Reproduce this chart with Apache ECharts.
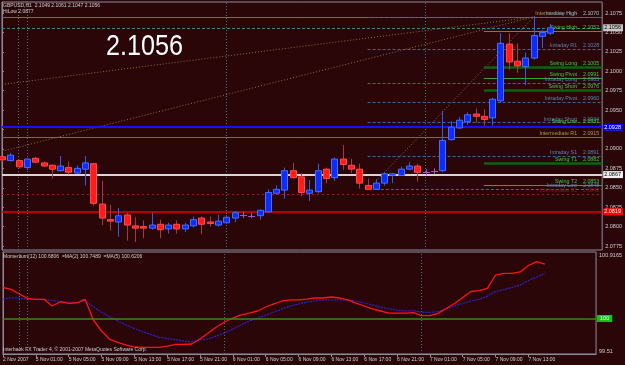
<!DOCTYPE html>
<html><head><meta charset="utf-8">
<script src="https://cdn.jsdelivr.net/npm/echarts@6/dist/echarts.min.js"></script>
<style>html,body{margin:0;padding:0;background:#2b0609;}#c{width:625px;height:365px;}</style>
</head><body><div id="c"></div>
<script>
const symbolName = 'GBPUSD,H1';
const hiLowText = 'HiLow 2.0877';
const tickBars = [0,4,8,12,16,20,24,28,32,36,40,44,48,52,56,60,64];
const tickLabels = ['2 Nov 2007','5 Nov 01:00','5 Nov 05:00','5 Nov 09:00','5 Nov 13:00','5 Nov 17:00','5 Nov 21:00','6 Nov 01:00','6 Nov 05:00','6 Nov 09:00','6 Nov 13:00','6 Nov 17:00','6 Nov 21:00','7 Nov 01:00','7 Nov 05:00','7 Nov 09:00','7 Nov 13:00'];
const priceTicks = [2.0775,2.0800,2.0825,2.0850,2.0875,2.0900,2.0925,2.0950,2.0975,2.1000,2.1025,2.1050,2.1075];
const indTicks = [99.51, 100.9165];
const indTickLabels = ['99.51', '100.9165'];

const openP = [2.0890,2.0885,2.0885,2.0876,2.0888,2.0882,2.0879,2.0872,2.0876,2.0869,2.0874,2.0881,2.0829,2.0809,2.0806,2.0815,2.0801,2.0800,2.0798,2.0803,2.0797,2.0803,2.0797,2.0801,2.0811,2.0806,2.0802,2.0805,2.0811,2.0815,2.0814,2.0814,2.0819,2.0843,2.0847,2.0872,2.0864,2.0843,2.0845,2.0874,2.0863,2.0887,2.0879,2.0874,2.0853,2.0848,2.0856,2.0866,2.0866,2.0874,2.0878,2.0870,2.0871,2.0872,2.0912,2.0927,2.0935,2.0945,2.0942,2.0940,2.0962,2.1035,2.1013,2.1006,2.1017,2.1045,2.1049];
const highP = [2.0891,2.0895,2.0886,2.0888,2.0890,2.0884,2.0880,2.0891,2.0884,2.0879,2.0891,2.0882,2.0859,2.0828,2.0824,2.0818,2.0812,2.0808,2.0818,2.0809,2.0805,2.0808,2.0805,2.0813,2.0813,2.0813,2.0815,2.0815,2.0820,2.0819,2.0818,2.0822,2.0848,2.0853,2.0876,2.0882,2.0869,2.0860,2.0881,2.0876,2.0889,2.0905,2.0887,2.0881,2.0862,2.0861,2.0870,2.0869,2.0877,2.0883,2.0881,2.0874,2.0875,2.0949,2.0936,2.0941,2.0947,2.0952,2.0951,2.0966,2.1049,2.1049,2.1036,2.1024,2.1071,2.1053,2.1061];
const lowP = [2.0884,2.0884,2.0875,2.0873,2.0882,2.0877,2.0862,2.0871,2.0867,2.0868,2.0853,2.0827,2.0802,2.0795,2.0787,2.0782,2.0780,2.0785,2.0796,2.0785,2.0791,2.0791,2.0793,2.0799,2.0790,2.0800,2.0800,2.0804,2.0806,2.0811,2.0811,2.0809,2.0818,2.0841,2.0836,2.0862,2.0839,2.0833,2.0843,2.0856,2.0859,2.0873,2.0869,2.0849,2.0847,2.0847,2.0853,2.0856,2.0865,2.0873,2.0858,2.0866,2.0868,2.0870,2.0911,2.0926,2.0931,2.0934,2.0930,2.0930,2.0959,2.1002,2.0998,2.0982,2.1015,2.1030,2.1047];
const closeP = [2.0886,2.0892,2.0877,2.0887,2.0883,2.0878,2.0874,2.0878,2.0870,2.0875,2.0882,2.0830,2.0811,2.0808,2.0814,2.0802,2.0798,2.0799,2.0802,2.0796,2.0802,2.0797,2.0802,2.0809,2.0803,2.0804,2.0807,2.0812,2.0818,2.0815,2.0814,2.0821,2.0844,2.0848,2.0872,2.0863,2.0844,2.0847,2.0872,2.0862,2.0887,2.0880,2.0874,2.0856,2.0848,2.0856,2.0868,2.0868,2.0874,2.0878,2.0870,2.0870,2.0871,2.0911,2.0928,2.0937,2.0944,2.0942,2.0938,2.0964,2.1036,2.1012,2.1007,2.1017,2.1046,2.1050,2.1056];

const momMA2 = [100.427,100.402,100.337,100.278,100.264,100.264,100.172,100.231,100.209,100.217,100.264,99.979,99.827,99.713,99.669,99.634,99.607,99.602,99.602,99.602,99.620,99.644,99.644,99.648,99.717,99.800,99.882,99.951,100.006,100.048,100.075,100.103,100.158,100.200,100.241,100.255,100.255,100.268,100.282,100.282,100.296,100.282,100.255,100.213,100.172,100.131,100.103,100.075,100.075,100.075,100.080,100.038,100.038,100.071,100.137,100.206,100.289,100.372,100.383,100.416,100.599,100.623,100.623,100.641,100.730,100.783,100.749];
const momMA5 = [100.268,100.286,100.278,100.264,100.264,100.264,100.248,100.231,100.223,100.217,100.245,100.162,100.089,100.024,99.965,99.910,99.862,99.818,99.779,99.740,99.724,99.707,99.689,99.680,99.703,99.717,99.758,99.800,99.855,99.910,99.965,100.006,100.048,100.089,100.131,100.172,100.200,100.227,100.241,100.255,100.255,100.255,100.255,100.241,100.213,100.186,100.158,100.131,100.117,100.103,100.107,100.085,100.085,100.093,100.137,100.172,100.206,100.241,100.262,100.310,100.369,100.399,100.427,100.462,100.524,100.572,100.621];
const indHeader = 'Momentum(12) 100.6806  =MA(2) 100.7489  =MA(5) 100.6206';
const indLevel = 100;

const levelNames = ['Intermediate High','Intraday High','Swing High','Intraday R1','Swing Long','Swing Pivot','Intraday Long','Swing Short','Intraday Pivot','Intraday Short','Swing Low','Intermediate R1','Intraday S1','Swing T1','Swing T2','Intraday Low','Intermediate S1'];
const levelPrices = [2.1070,2.1070,2.1052,2.1028,2.1005,2.0991,2.0985,2.0976,2.0960,2.0934,2.0931,2.0915,2.0891,2.0882,2.0853,2.0848,2.0842];
const levelStartBar = [0,44,58,44,58,58,44,58,44,44,58,0,44,58,58,45,0];

const hLinePrices = [2.0928, 2.0867, 2.0819];
const separatorBars = [2, 3, 27, 51];
const trendStartBar = [0, 0, 44];
const trendStartPrice = [2.0983, 2.0897, 2.0847];
const trendEndBar = 64;
const trendEndPrice = 2.1070;
const copyrightText = 'Interbank FX Trader 4, \u00a9 2001-2007 MetaQuotes Software Corp.';

// ---- layout / style ----
const BG = '#2b0609', FRAME = '#8a8e9c', TXT = '#cfcfcf';
const FONT = '"Liberation Sans", Arial, sans-serif';
const X_MAX = 72.24;
const Y_MIN = 2.07699, Y_MAX = 2.10892;
const last = closeP.length - 1;

function levelStyle(name) {
  if (name.indexOf('Intraday') === 0) return {line: {color: '#3c6890', width: 1, type: [3, 2]}, label: '#5a84b4'};
  if (name.indexOf('Intermediate S') === 0) return {line: {color: '#a31818', width: 1, type: [2, 3]}, label: '#7a2020'};
  if (name.indexOf('Intermediate') === 0) return {line: {color: '#7a7030', width: 1, type: 'solid'}, label: '#aa9e4a'};
  if (name === 'Swing Low') return {line: {color: 'rgba(0,0,0,0)', width: 1}, label: '#3ccc3c'};
  if (name === 'Swing Long' || name === 'Swing Short' || name === 'Swing T1') return {line: {color: '#0b650b', width: 2.5, type: 'solid'}, label: '#3ccc3c'};
  return {line: {color: '#33a533', width: 1, type: 'solid'}, label: '#3ccc3c'};
}

const levelMarks = levelNames.map((name, k) => {
  const st = levelStyle(name);
  const p = levelPrices[k];
  const label = {show: true, position: 'insideEndTop', distance: [3, 1], color: st.label, fontSize: 5.3, fontFamily: FONT,
    formatter: name + '    ' + p.toFixed(4)};
  if (levelStartBar[k] === 0) return {yAxis: p, lineStyle: st.line, label};
  return [{coord: [levelStartBar[k], p], lineStyle: st.line, label}, {coord: [X_MAX, p]}];
});

const boxStyles = [
  {line: {color: '#1212ff', width: 2, type: 'solid'}, bg: '#0000ff', fg: '#ffffff'},
  {line: {color: '#d6d6d6', width: 2, type: 'solid'}, bg: '#f0f0f0', fg: '#000000'},
  {line: {color: '#e60000', width: 1.5, type: 'solid'}, bg: '#ff0000', fg: '#ffffff'}
];
function boxLabel(bg, fg, txt) {
  return {show: true, position: 'end', distance: 1, backgroundColor: bg, color: fg, fontSize: 5.5, fontFamily: FONT,
    padding: [1, 2, 0, 1], formatter: txt};
}
const boxMarks = hLinePrices.map((p, k) => ({yAxis: p, lineStyle: boxStyles[k].line, label: boxLabel(boxStyles[k].bg, boxStyles[k].fg, p.toFixed(4))}));
boxMarks.unshift({yAxis: closeP[last], lineStyle: {color: '#2f8c8c', width: 1, type: [3, 2]}, label: boxLabel('#c8c8c8', '#000000', closeP[last].toFixed(4))});

const sepMarks = separatorBars.map(b => ({xAxis: b}));
const sepStyle = {color: '#3e7282', width: 1, type: [1, 2]};

function renderCandle(params, api) {
  const i = api.value(0), o = api.value(1), c = api.value(2), l = api.value(3), h = api.value(4);
  const po = api.coord([i, o]);
  const x = Math.round(po[0]) + 0.5;
  const yo = po[1], yc = api.coord([i, c])[1], yl = api.coord([i, l])[1], yh = api.coord([i, h])[1];
  const bw = Math.max(3, Math.round(api.size([1, 0])[0] * 0.68));
  const up = c > o, doji = c === o;
  const wick = doji ? '#b048d8' : (up ? '#2c5ef0' : '#a43c3c');
  const children = [{type: 'line', shape: {x1: x, y1: yh, x2: x, y2: yl}, style: {stroke: wick, lineWidth: 1}}];
  if (doji) {
    children.push({type: 'line', shape: {x1: x - bw / 2 - 0.5, y1: Math.round(yo) + 0.5, x2: x + bw / 2 + 0.5, y2: Math.round(yo) + 0.5}, style: {stroke: '#b048d8', lineWidth: 1}});
  } else {
    const top = Math.min(yo, yc), hgt = Math.max(1.5, Math.abs(yo - yc));
    children.push({type: 'rect', shape: {x: x - bw / 2, y: top, width: bw, height: hgt},
      style: {fill: up ? '#0f2cff' : '#ff1c1c', stroke: up ? '#4a6cff' : '#ff4a4a', lineWidth: 1}});
  }
  return {type: 'group', children};
}

const series = [];
series.push({
  type: 'custom', name: 'candles', xAxisIndex: 0, yAxisIndex: 0, z: 6,
  renderItem: renderCandle,
  encode: {x: 0, y: [1, 2, 3, 4]},
  data: openP.map((o, i) => [i, o, closeP[i], lowP[i], highP[i]])
});
trendStartBar.forEach((b, k) => {
  series.push({
    type: 'line', xAxisIndex: 0, yAxisIndex: 0, z: 3, symbol: 'none', silent: true,
    lineStyle: {color: '#857538', width: 1, type: [1, 2]},
    data: [[b, trendStartPrice[k]], [trendEndBar, trendEndPrice]],
    markLine: k === 0 ? {silent: true, symbol: ['none', 'none'], animation: false, precision: 4,
      data: sepMarks.concat(levelMarks), lineStyle: sepStyle, label: {show: false}} : undefined
  });
});
series.push({
  type: 'line', xAxisIndex: 0, yAxisIndex: 0, z: 4, symbol: 'none', silent: true,
  lineStyle: {width: 0}, data: [],
  markLine: {silent: true, symbol: ['none', 'none'], animation: false, precision: 4, data: boxMarks}
});
series.push({
  type: 'line', xAxisIndex: 1, yAxisIndex: 1, z: 3, symbol: 'none', silent: true,
  lineStyle: {color: '#2626d4', width: 1.2, type: [2, 1]},
  data: momMA5.map((v, i) => [i, v]),
  markLine: {silent: true, symbol: ['none', 'none'], animation: false,
    data: sepMarks.map(m => Object.assign({lineStyle: sepStyle, label: {show: false}}, m)).concat([
      {yAxis: indLevel, lineStyle: {color: '#3a8a12', width: 1.5, type: 'solid'},
       label: {show: true, position: 'end', distance: 1, backgroundColor: '#16c416', color: '#eaffea', fontSize: 5.5, fontFamily: FONT, padding: [1, 3, 0, 3], formatter: String(indLevel)}}
    ])}
});
series.push({
  type: 'line', xAxisIndex: 1, yAxisIndex: 1, z: 4, symbol: 'none', silent: true,
  lineStyle: {color: '#ff1414', width: 1.3},
  data: momMA2.map((v, i) => [i, v])
});

const option = {
  backgroundColor: BG,
  animation: false,
  grid: [
    {left: 2, top: 2, width: 602, height: 248, show: true, borderColor: FRAME, borderWidth: 1, backgroundColor: 'transparent'},
    {left: 2, top: 252, width: 602, height: 102, show: true, borderColor: FRAME, borderWidth: 1, backgroundColor: 'transparent'}
  ],
  xAxis: [
    {type: 'value', gridIndex: 0, min: 0, max: X_MAX, show: false, splitLine: {show: false}},
    {type: 'value', gridIndex: 1, min: 0, max: X_MAX, splitLine: {show: false},
     axisLine: {show: true, lineStyle: {color: FRAME}},
     axisTick: {show: true, customValues: tickBars, length: 3, lineStyle: {color: FRAME}},
     axisLabel: {customValues: tickBars, formatter: v => tickLabels[tickBars.indexOf(v)] || '', align: 'left', margin: 3,
       fontSize: 5, color: TXT, fontFamily: FONT}}
  ],
  yAxis: [
    {type: 'value', gridIndex: 0, position: 'right', min: Y_MIN, max: Y_MAX, splitLine: {show: false},
     axisLine: {show: true, lineStyle: {color: FRAME}},
     axisTick: {show: true, customValues: priceTicks, length: 2, lineStyle: {color: FRAME}},
     axisLabel: {customValues: priceTicks, formatter: v => v.toFixed(4), margin: 3, fontSize: 5.5, color: TXT, fontFamily: FONT}},
    {type: 'value', gridIndex: 1, position: 'right', min: indTicks[0], max: indTicks[1], splitLine: {show: false},
     axisLine: {show: true, lineStyle: {color: FRAME}},
     axisTick: {show: false},
     axisLabel: {customValues: indTicks, formatter: v => indTickLabels[indTicks.indexOf(v)] || '', margin: 3, fontSize: 5.5,
       color: TXT, fontFamily: FONT, verticalAlignMinLabel: 'bottom', verticalAlignMaxLabel: 'top'}}
  ],
  graphic: [
    {type: 'text', left: 3, top: 3, z: 10, style: {text: symbolName + '  ' + openP[last].toFixed(4) + ' ' + highP[last].toFixed(4) + ' ' + lowP[last].toFixed(4) + ' ' + closeP[last].toFixed(4), fill: TXT, font: '5px ' + FONT}},
    {type: 'text', left: 3, top: 9, z: 10, style: {text: hiLowText, fill: TXT, font: '5px ' + FONT}},
    {type: 'text', x: 106, y: 32, scaleX: 0.84, scaleY: 1, z: 10, style: {text: closeP[last].toFixed(4), fill: '#ffffff', font: '30px "Liberation Sans", sans-serif'}},
    {type: 'text', left: 3, top: 254, z: 10, style: {text: indHeader, fill: TXT, font: '5px ' + FONT}},
    {type: 'text', left: 3, top: 347, z: 10, style: {text: copyrightText, fill: TXT, font: '5px ' + FONT}}
  ],
  series
};
const chart = echarts.init(document.getElementById('c'));
chart.setOption(option);
</script></body></html>
